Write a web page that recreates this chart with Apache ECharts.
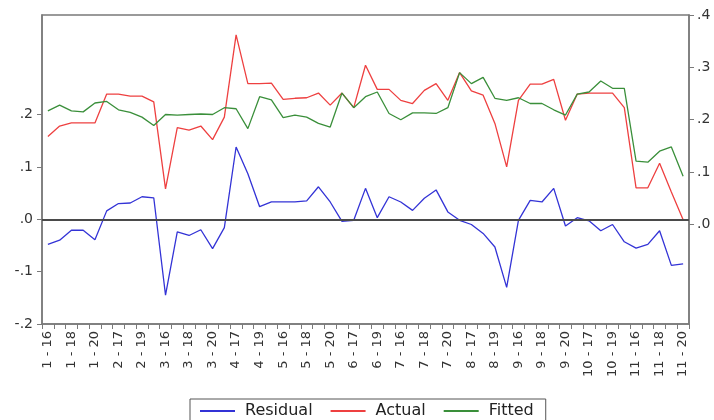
<!DOCTYPE html>
<html>
<head>
<meta charset="utf-8">
<script src="https://cdn.jsdelivr.net/npm/echarts@6/dist/echarts.min.js"></script>
<style>
  html, body { margin: 0; padding: 0; background: #fff; }
  #chart { width: 714px; height: 420px; }
</style>
</head>
<body>
<div id="chart"></div>
<script>
// Observation labels (group - day)
var categories = [
  '1 - 16','1 - 17','1 - 18','1 - 19','1 - 20',
  '2 - 16','2 - 17','2 - 18','2 - 19','2 - 20',
  '3 - 16','3 - 17','3 - 18','3 - 19','3 - 20',
  '4 - 16','4 - 17','4 - 18','4 - 19','4 - 20',
  '5 - 16','5 - 17','5 - 18','5 - 19','5 - 20',
  '6 - 16','6 - 17','6 - 18','6 - 19','6 - 20',
  '7 - 16','7 - 17','7 - 18','7 - 19','7 - 20',
  '8 - 16','8 - 17','8 - 18','8 - 19','8 - 20',
  '9 - 16','9 - 17','9 - 18','9 - 19','9 - 20',
  '10 - 16','10 - 17','10 - 18','10 - 19','10 - 20',
  '11 - 16','11 - 17','11 - 18','11 - 19','11 - 20'
];

// Residuals (left axis)
var residual = [
  -0.048, -0.040, -0.021, -0.021, -0.039,
   0.016,  0.030,  0.031,  0.043,  0.041,
  -0.145, -0.024, -0.031, -0.020, -0.056,
  -0.016,  0.138,  0.087,  0.024,  0.033,
   0.033,  0.033,  0.035,  0.062,  0.033,
  -0.004, -0.002,  0.059,  0.003,  0.043,
   0.033,  0.017,  0.040,  0.056,  0.014,
  -0.002, -0.010, -0.027, -0.053, -0.130,
  -0.002,  0.036,  0.033,  0.059, -0.013,
   0.003, -0.003, -0.022, -0.010, -0.043,
  -0.055, -0.048, -0.022, -0.088, -0.085
];

// Actual values (right axis)
var actual = [
  0.168, 0.188, 0.194, 0.194, 0.194,
  0.249, 0.249, 0.245, 0.245, 0.234,
  0.068, 0.185, 0.180, 0.188, 0.162,
  0.205, 0.362, 0.269, 0.269, 0.270,
  0.239, 0.241, 0.242, 0.251, 0.228,
  0.251, 0.223, 0.304, 0.258, 0.258,
  0.237, 0.231, 0.256, 0.269, 0.237,
  0.290, 0.255, 0.247, 0.193, 0.110,
  0.237, 0.268, 0.268, 0.277, 0.199,
  0.249, 0.251, 0.251, 0.251, 0.223,
  0.070, 0.070, 0.117, 0.062, 0.009
];

// Fitted values (right axis)
var fitted = [
  0.217, 0.228, 0.217, 0.215, 0.232,
  0.235, 0.219, 0.214, 0.205, 0.189,
  0.210, 0.209, 0.210, 0.211, 0.210,
  0.223, 0.221, 0.183, 0.244, 0.238,
  0.204, 0.209, 0.205, 0.193, 0.186,
  0.251, 0.223, 0.244, 0.253, 0.212,
  0.200, 0.213, 0.213, 0.212, 0.223,
  0.290, 0.269, 0.281, 0.241, 0.237,
  0.242, 0.231, 0.231, 0.219, 0.209,
  0.249, 0.253, 0.274, 0.260, 0.260,
  0.121, 0.119, 0.140, 0.148, 0.092
];

// Tick positions for each value axis
var leftTicks = [-0.2, -0.1, 0, 0.1, 0.2];
var rightTicks = [0, 0.1, 0.2, 0.3, 0.4];

function shortDecimal(v) {
  return v.toFixed(1).replace('0.', '.');
}

var frameColor = '#7a7a7a';
var textColor = '#333';
var font = 'DejaVu Sans';
var lineIcon = 'path://M0,0H35V2H0Z';

var chart = echarts.init(document.getElementById('chart'), null, { renderer: 'canvas' });

chart.setOption({
  animation: false,
  backgroundColor: '#fff',
  grid: {
    left: 42, right: 25, top: 15, bottom: 96,
    show: true, borderColor: frameColor, borderWidth: 1.5,
    backgroundColor: 'transparent'
  },
  legend: {
    data: [
      { name: 'Residual', icon: lineIcon },
      { name: 'Actual', icon: lineIcon },
      { name: 'Fitted', icon: lineIcon }
    ],
    left: 190, top: 399,
    padding: [4, 12, 4, 10],
    itemWidth: 35, itemHeight: 2, itemGap: 18,
    borderColor: '#555', borderWidth: 1,
    textStyle: { fontFamily: font, fontSize: 16, color: '#222', padding: [0, 0, 0, 5] }
  },
  xAxis: {
    type: 'category',
    data: categories,
    boundaryGap: true,
    axisLine: { show: true, onZero: false, lineStyle: { color: frameColor, width: 1.5 } },
    axisTick: { show: true, interval: 0, length: 5, inside: false,
                lineStyle: { color: frameColor, width: 1 } },
    axisLabel: { interval: 1, rotate: 90, margin: 7,
                 fontFamily: font, fontSize: 13, color: textColor },
    splitLine: { show: false }
  },
  yAxis: [
    {
      type: 'value', position: 'left',
      min: -0.2, max: 0.39,
      axisLine: { show: true, lineStyle: { color: frameColor, width: 1.5 } },
      axisTick: { show: true, length: 5, customValues: leftTicks,
                  lineStyle: { color: frameColor, width: 1 } },
      axisLabel: { customValues: leftTicks, formatter: shortDecimal, margin: 9,
                   fontFamily: font, fontSize: 14, color: textColor },
      splitLine: { show: false }
    },
    {
      type: 'value', position: 'right',
      min: -0.19, max: 0.4,
      axisLine: { show: true, lineStyle: { color: frameColor, width: 1.5 } },
      axisTick: { show: true, length: 5, customValues: rightTicks,
                  lineStyle: { color: frameColor, width: 1 } },
      axisLabel: { customValues: rightTicks, formatter: shortDecimal, margin: 8,
                   fontFamily: font, fontSize: 14, color: textColor },
      splitLine: { show: false }
    }
  ],
  series: [
    {
      name: 'Residual', type: 'line', yAxisIndex: 0,
      data: residual, symbol: 'none',
      lineStyle: { color: '#3333d6', width: 1.3 },
      itemStyle: { color: '#3333d6' },
      markLine: {
        silent: true, symbol: 'none',
        label: { show: false },
        lineStyle: { color: '#4a4a4a', width: 2, type: 'solid' },
        data: [{ yAxis: 0 }]
      }
    },
    {
      name: 'Actual', type: 'line', yAxisIndex: 1,
      data: actual, symbol: 'none',
      lineStyle: { color: '#ee4040', width: 1.3 },
      itemStyle: { color: '#ee4040' }
    },
    {
      name: 'Fitted', type: 'line', yAxisIndex: 1,
      data: fitted, symbol: 'none',
      lineStyle: { color: '#3a8f3a', width: 1.3 },
      itemStyle: { color: '#3a8f3a' }
    }
  ]
});
</script>
</body>
</html>
